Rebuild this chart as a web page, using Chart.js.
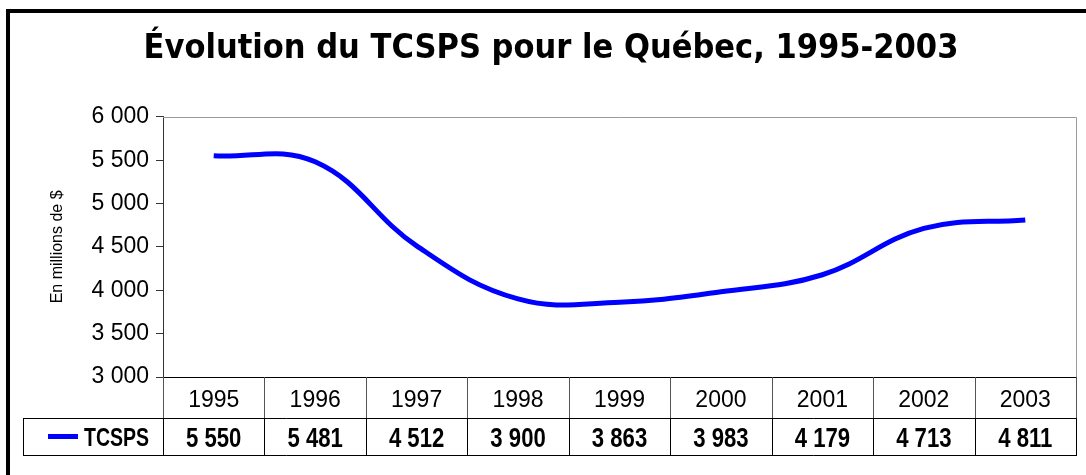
<!DOCTYPE html>
<html><head><meta charset="utf-8">
<script src="https://cdn.jsdelivr.net/npm/chart.js@4.4.1/dist/chart.umd.min.js"></script>
<style>
html,body{margin:0;padding:0;background:#fff;overflow:hidden}
#wrap{position:relative;width:1086px;height:475px;overflow:hidden}
#frame{position:absolute;left:6px;top:9px;width:1100px;height:520px;border:4px solid #000;box-sizing:border-box}
canvas{position:absolute;left:0;top:0}
</style></head><body>
<div id="wrap"><div id="frame"></div><canvas id="c" width="1086" height="475"></canvas></div>
<script>
const chartTitle = 'Évolution du TCSPS pour le Québec, 1995-2003';
const yAxisTitle = 'En millions de $';
const seriesName = 'TCSPS';
const years = ['1995','1996','1997','1998','1999','2000','2001','2002','2003'];
const tcsps = [5550, 5481, 4512, 3900, 3863, 3983, 4179, 4713, 4811];
const yTicks = [3000, 3500, 4000, 4500, 5000, 5500, 6000];

const COND = "'DejaVu Sans Condensed', 'DejaVu Sans', sans-serif";
const SANS = "'Liberation Sans', Arial, sans-serif";
const fmt = v => String(v).replace(/\B(?=(\d{3})+(?!\d))/g, ' ');

// draws text squeezed horizontally (emulates a narrow bold face)
function narrowText(ctx, text, x, y, font, sx, align) {
  ctx.save();
  ctx.font = font;
  ctx.textAlign = align;
  ctx.textBaseline = 'middle';
  ctx.translate(x, y);
  ctx.scale(sx, 1);
  ctx.fillText(text, 0, 0);
  ctx.restore();
}

const tablePlugin = {
  id: 'dataTable',
  beforeDatasetsDraw(chart) {
    const {ctx, chartArea: ca} = chart;
    ctx.save();
    ctx.strokeStyle = '#9a9a9a';
    ctx.lineWidth = 1;
    ctx.beginPath();
    ctx.moveTo(ca.left, Math.round(ca.top) + 0.5);
    ctx.lineTo(Math.round(ca.right) + 0.5, Math.round(ca.top) + 0.5);
    ctx.lineTo(Math.round(ca.right) + 0.5, ca.bottom);
    ctx.stroke();
    ctx.restore();
  },
  afterDraw(chart) {
    const {ctx, chartArea: ca, scales: {x}} = chart;
    const n = years.length;
    const step = x.getPixelForValue(1) - x.getPixelForValue(0);
    const top = Math.round(ca.bottom), mid = top + 41, bot = top + 78;
    const tableLeft = 23;
    const L = (x1, y1, x2, y2, c) => {
      ctx.strokeStyle = c; ctx.beginPath();
      ctx.moveTo(x1, y1); ctx.lineTo(x2, y2); ctx.stroke();
    };
    ctx.save();
    ctx.lineWidth = 1;
    const right = Math.round(ca.right) + 0.5;
    L(tableLeft + 0.5, mid + 0.5, right, mid + 0.5, '#000');
    L(tableLeft + 0.5, bot + 0.5, right, bot + 0.5, '#000');
    L(tableLeft + 0.5, mid, tableLeft + 0.5, bot + 1, '#000');
    for (let i = 0; i <= n; i++) {
      const xe = Math.round(x.getPixelForValue(0) - step / 2 + i * step) + 0.5;
      L(xe, top, xe, mid, '#555');
      L(xe, mid, xe, bot + 1, '#000');
    }
    ctx.fillStyle = '#000';
    for (let i = 0; i < n; i++) {
      const cx = x.getPixelForValue(i);
      ctx.font = '23px ' + SANS;
      ctx.textAlign = 'center';
      ctx.textBaseline = 'middle';
      ctx.fillText(years[i], cx, (top + mid) / 2 + 3);
      narrowText(ctx, fmt(tcsps[i]), cx, (mid + bot) / 2 + 3, 'bold 27px ' + SANS, 0.82, 'center');
    }
    // legend key
    const ly = (mid + bot) / 2;
    ctx.lineWidth = 5;
    L(48, ly, 78, ly, '#0000ff');
    narrowText(ctx, seriesName, 84, ly + 3, 'bold 25px ' + SANS, 0.78, 'left');
    ctx.restore();
  }
};

new Chart(document.getElementById('c'), {
  type: 'line',
  data: {
    labels: years,
    datasets: [{
      label: seriesName, data: tcsps,
      borderColor: '#0000ff', borderWidth: 5,
      pointRadius: 0, tension: 0.4, fill: false
    }]
  },
  options: {
    responsive: false, animation: false, devicePixelRatio: 1,
    layout: {padding: {left: 26, right: 10, top: 0, bottom: 98}},
    plugins: {
      legend: {display: false},
      tooltip: {enabled: false},
      title: {
        display: true, text: chartTitle, color: '#000',
        font: {family: COND, size: 34, weight: 'bold'},
        padding: {top: 29, bottom: 47}
      }
    },
    scales: {
      x: {
        type: 'category', offset: true,
        ticks: {display: false},
        grid: {display: false, drawTicks: false},
        border: {display: true, color: '#000', width: 1}
      },
      y: {
        min: 3000, max: 6000,
        afterBuildTicks: s => { s.ticks = yTicks.map(v => ({value: v})); },
        afterFit: s => { s.width = 137; },
        ticks: {font: {family: SANS, size: 23}, color: '#000', padding: 7, callback: v => fmt(v)},
        grid: {drawOnChartArea: false, drawTicks: true, tickLength: 7, color: '#333'},
        border: {color: '#333'},
        title: {display: true, text: yAxisTitle, color: '#000',
          font: {family: SANS, size: 16}, padding: {top: 22, bottom: 0}}
      }
    }
  },
  plugins: [tablePlugin]
});
</script>
</body></html>
